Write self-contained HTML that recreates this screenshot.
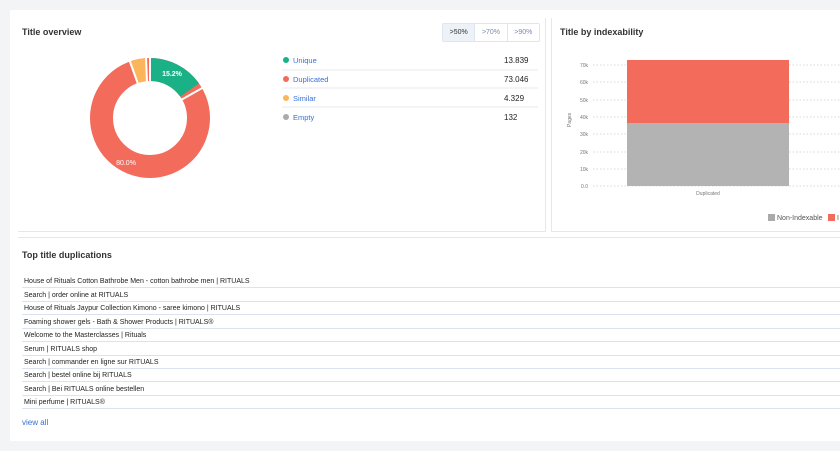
<!DOCTYPE html>
<html><head><style>
body{margin:0;width:840px;height:451px;background:#f3f4f5;font-family:"Liberation Sans",sans-serif;position:relative;overflow:hidden}
.a{position:absolute}
.t{font-size:9px;font-weight:bold;color:#333}
.row{position:absolute;left:22px;width:818px;height:13px;border-bottom:1px solid #dde3ee;font-size:7px;color:#222;line-height:13px;padding-left:2px;box-sizing:border-box}
.lg{font-size:7.5px;color:#3a6fd8}
.v{font-size:8px;color:#222}
</style></head><body>
<div class="a" style="left:10px;top:10px;width:830px;height:431px;background:#fff"></div>
<div class="a" style="left:545px;top:18px;width:1px;height:214px;background:#e3e7ee"></div>
<div class="a" style="left:18px;top:231px;width:527px;height:1px;background:#e3e7ee"></div>
<div class="a" style="left:551px;top:18px;width:1px;height:214px;background:#e3e7ee"></div>
<div class="a" style="left:551px;top:231px;width:289px;height:1px;background:#e3e7ee"></div>
<div class="a" style="left:18px;top:237px;width:822px;height:1px;background:#e3e7ee"></div>
<div class="a t" style="left:22px;top:27px">Title overview</div>
<div class="a" style="left:442px;top:23px;width:96px;height:17px;border:1px solid #dfe5ef;border-radius:2px;display:flex;font-size:7px;color:#7a8bb0;line-height:17px">
<div style="width:32px;text-align:center;background:#edf1f8;color:#333">&gt;50%</div><div style="width:32px;text-align:center;border-left:1px solid #dfe5ef">&gt;70%</div><div style="width:32px;text-align:center;border-left:1px solid #dfe5ef">&gt;90%</div></div>
<svg class="a" style="left:0;top:0" width="540" height="232">
<g transform="translate(150,118)">
<circle r="48.5" fill="none" stroke="#f26b5b" stroke-width="23"/>
<circle r="48.5" fill="none" stroke="#1bb187" stroke-width="23" stroke-dasharray="46.3 1000" transform="rotate(-90)"/>
<circle r="48.5" fill="none" stroke="#fbb65b" stroke-width="23" stroke-dasharray="14.3 1000" transform="rotate(250)"/>
<g stroke="#fff" stroke-width="2"><line x1="0" y1="-35" x2="0" y2="-62"/><line x1="31" y1="-18" x2="54" y2="-31"/><line x1="-12" y1="-34" x2="-21" y2="-59"/><line x1="-3" y1="-35" x2="-4" y2="-62"/></g>
<text x="22" y="-42" font-size="7" fill="#fff" text-anchor="middle" font-weight="bold">15.2%</text>
<text x="-24" y="47" font-size="7" fill="#fff" text-anchor="middle">80.0%</text>
</g>
<circle cx="286" cy="60" r="3" fill="#1bb187"/><circle cx="286" cy="79" r="3" fill="#f26b5b"/><circle cx="286" cy="98" r="3" fill="#fbb65b"/><circle cx="286" cy="117" r="3" fill="#aaa"/>
<g stroke="#e6e9ef"><line x1="282" y1="70" x2="538" y2="70"/><line x1="282" y1="88" x2="538" y2="88"/><line x1="282" y1="107" x2="538" y2="107"/></g>
</svg>
<div class="a lg" style="left:293px;top:56px">Unique</div><div class="a v" style="left:504px;top:56px">13.839</div>
<div class="a lg" style="left:293px;top:75px">Duplicated</div><div class="a v" style="left:504px;top:75px">73.046</div>
<div class="a lg" style="left:293px;top:94px">Similar</div><div class="a v" style="left:504px;top:94px">4.329</div>
<div class="a lg" style="left:293px;top:113px">Empty</div><div class="a v" style="left:504px;top:113px">132</div>
<div class="a t" style="left:560px;top:27px">Title by indexability</div>
<svg class="a" style="left:552px;top:0" width="288" height="232">
<g stroke="#ccc" stroke-dasharray="1.5 2" stroke-width="0.7">
<line x1="41" y1="186" x2="288" y2="186"/><line x1="41" y1="169" x2="288" y2="169"/><line x1="41" y1="152" x2="288" y2="152"/><line x1="41" y1="134" x2="288" y2="134"/><line x1="41" y1="117" x2="288" y2="117"/><line x1="41" y1="100" x2="288" y2="100"/><line x1="41" y1="82" x2="288" y2="82"/><line x1="41" y1="65" x2="288" y2="65"/></g>
<g font-size="5" fill="#777" text-anchor="end"><text x="36" y="188">0.0</text><text x="36" y="171">10k</text><text x="36" y="154">20k</text><text x="36" y="136">30k</text><text x="36" y="119">40k</text><text x="36" y="102">50k</text><text x="36" y="84">60k</text><text x="36" y="67">70k</text></g>
<text font-size="5" fill="#777" transform="translate(19,127) rotate(-90)">Pages</text>
<rect x="75" y="60" width="162" height="63" fill="#f26b5b"/>
<rect x="75" y="123" width="162" height="63" fill="#b3b3b3"/>
<text x="156" y="195" font-size="5" fill="#777" text-anchor="middle">Duplicated</text>
<rect x="216" y="214" width="7" height="7" fill="#aaa"/>
<text x="225" y="220" font-size="7" fill="#555">Non-Indexable</text>
<rect x="276" y="214" width="7" height="7" fill="#f26b5b"/>
<text x="285" y="220" font-size="7" fill="#555">I</text>
</svg>
<div class="a t" style="left:22px;top:250px">Top title duplications</div>
<div class="row" style="top:275px">House of Rituals Cotton Bathrobe Men - cotton bathrobe men | RITUALS</div>
<div class="row" style="top:289px">Search | order online at RITUALS</div>
<div class="row" style="top:302px">House of Rituals Jaypur Collection Kimono - saree kimono | RITUALS</div>
<div class="row" style="top:316px">Foaming shower gels - Bath &amp; Shower Products | RITUALS®</div>
<div class="row" style="top:329px">Welcome to the Masterclasses | Rituals</div>
<div class="row" style="top:343px">Serum | RITUALS shop</div>
<div class="row" style="top:356px">Search | commander en ligne sur RITUALS</div>
<div class="row" style="top:369px">Search | bestel online bij RITUALS</div>
<div class="row" style="top:383px">Search | Bei RITUALS online bestellen</div>
<div class="row" style="top:396px">Mini perfume | RITUALS®</div>
<div class="a" style="left:22px;top:418px;font-size:8px;color:#3a6fd8">view all</div>
</body></html>
